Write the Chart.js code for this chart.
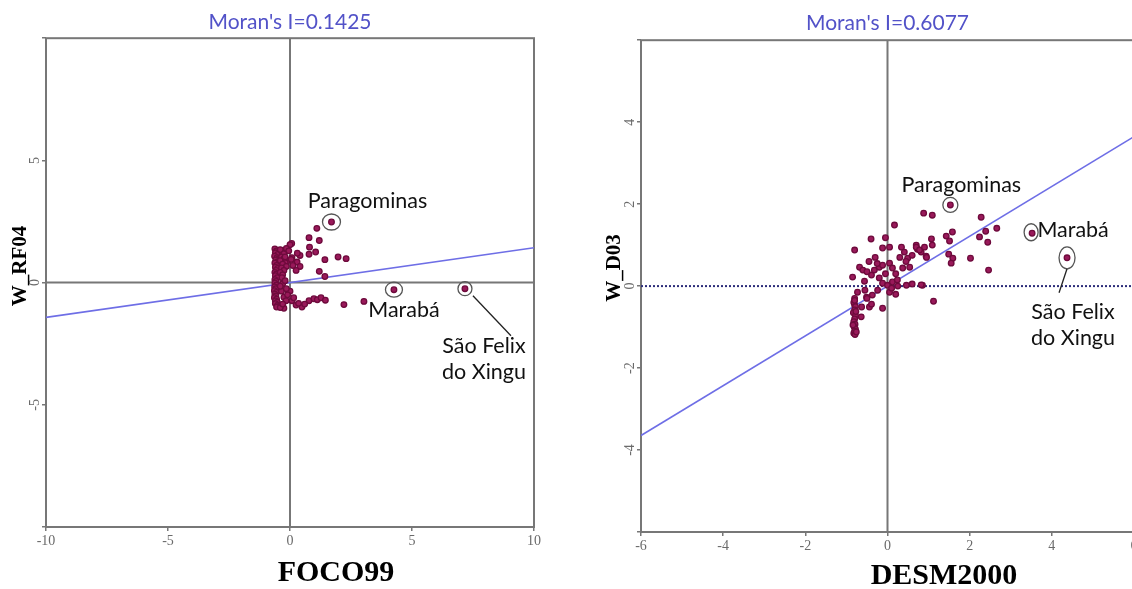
<!DOCTYPE html>
<html>
<head>
<meta charset="utf-8">
<script src="https://cdn.jsdelivr.net/npm/chart.js@4.4.1/dist/chart.umd.min.js"></script>
<style>
  html, body { margin: 0; padding: 0; background: #fff; overflow: hidden; width: 1132px; height: 589px; }
  .panel { position: absolute; top: 0; }
  #leftPanel { left: 0; }
  #rightPanel { left: 580px; }
</style>
</head>
<body>
<div class="panel" id="leftPanel"><canvas id="chartFoco" width="566" height="589"></canvas></div>
<div class="panel" id="rightPanel"><canvas id="chartDesm" width="600" height="589"></canvas></div>
<script>
// Moran scatterplots (standardized variable vs spatial lag)
const moranFoco = 0.1425;
const moranDesm = 0.6077;

// FOCO99 (x) vs W_RF04 (y)
const focoPoints = [
  [1.7, 2.48], [4.26, -0.29], [7.17, -0.25],
  [1.1, 2.22], [0.78, 1.84], [1.2, 1.72], [0.8, 1.45], [1.05, 1.25], [0.78, 1.16],
  [1.43, 0.94], [1.97, 1.05], [2.3, 0.98], [1.2, 0.46], [1.43, 0.25], [0.41, 1.11],
  [0.29, 0.84], [0.41, 0.66], [0.25, 0.5], [0.07, 1.6], [0, 1.55], [0.08, 1.02],
  [-0.08, 0.9], [0.3, 1.2], [0.12, 0.7],
  [-0.62, 1.38], [-0.55, 1.3], [-0.6, 1.22], [-0.5, 1.15], [-0.63, 1.08], [-0.53, 1.02],
  [-0.45, 0.98], [-0.58, 0.93], [-0.5, 0.86], [-0.62, 0.8], [-0.45, 0.76], [-0.55, 0.7],
  [-0.6, 0.63], [-0.5, 0.58], [-0.57, 0.5], [-0.62, 0.42], [-0.55, 0.35], [-0.6, 0.28],
  [-0.52, 0.2], [-0.62, 0.12], [-0.57, 0.05], [-0.62, -0.02], [-0.55, -0.1], [-0.63, -0.18],
  [-0.58, -0.25], [-0.64, -0.33], [-0.56, -0.4], [-0.62, -0.47], [-0.58, -0.55], [-0.64, -0.62],
  [-0.55, -0.68], [-0.6, -0.75], [-0.52, -0.8], [-0.6, -0.86], [-0.5, -0.92], [-0.45, -0.98],
  [-0.55, -1.0],
  [-0.33, 1.25], [-0.25, 1.18], [-0.35, 1.05], [-0.25, 0.97], [-0.4, 0.9], [-0.2, 0.82],
  [-0.3, 0.75], [-0.15, 0.66], [-0.35, 0.6], [-0.25, 0.5], [-0.4, 0.42], [-0.3, 0.32],
  [-0.33, 0.2], [-0.15, 1.4], [-0.4, 1.35], [-0.2, 1.05], [0.05, 0.95], [-0.05, 1.3],
  [-0.35, -0.35], [-0.25, -0.6], [-0.16, -0.74], [-0.25, -1.05], [-0.4, -1.02], [-0.3, -0.88],
  [0.08, -0.74], [0.25, -0.92], [0.49, -1.0], [0.35, -0.85], [0.78, -0.74], [0.98, -0.66],
  [1.12, -0.7], [1.27, -0.62], [1.45, -0.72], [2.21, -0.9], [3.03, -0.77], [0.0, -0.35],
  [-0.1, -0.5], [0.15, -0.62], [0.6, -0.88],
  [-0.3, -0.05], [-0.2, 0.08], [-0.4, -0.15], [-0.15, -0.25]
];

// DESM2000 (x) vs W_D03 (y)
const desmPoints = [
  [1.53, 1.98], [3.52, 1.29], [4.37, 0.69],
  [0.88, 1.78], [1.09, 1.73], [2.28, 1.68], [2.66, 1.41], [2.39, 1.34], [2.24, 1.2],
  [2.44, 1.07], [1.58, 1.32], [1.43, 1.22], [1.51, 1.1], [1.07, 1.15], [1.09, 1.0],
  [0.7, 1.0], [0.73, 0.9], [0.82, 0.83], [0.94, 0.73], [1.49, 0.78], [1.59, 0.68],
  [1.55, 0.56], [2.02, 0.68], [2.46, 0.39], [0.85, 0.02], [1.12, -0.37], [0.17, 1.49],
  [-0.4, 1.15], [-0.05, 1.18], [-0.8, 0.88], [-0.12, 0.93], [0.05, 0.95], [0.34, 0.95],
  [0.41, 0.83], [0.7, 0.95], [0.78, 0.88], [0.49, 0.68], [0.95, 0.7], [-0.68, 0.46],
  [-0.6, 0.39], [-0.85, 0.22], [-0.56, 0.12], [-0.39, 0.27], [-0.32, 0.39], [-0.2, 0.46],
  [-0.12, 0.51], [0.05, 0.56], [0.12, 0.44], [0.37, 0.44], [0.54, 0.46], [-0.12, 0.07],
  [0, 0.02], [0.12, 0.1], [0.24, 0.15], [0.46, 0.02], [0.82, 0.03], [-0.24, -0.1],
  [0.05, -0.15], [-0.37, -0.22], [-0.51, -0.27], [-0.73, -0.15], [-0.8, -0.46], [-0.63, -0.51],
  [-0.44, -0.51], [-0.39, -0.44], [-0.12, -0.54], [-0.64, -0.75],
  [0.3, 0.7], [0.6, 0.75], [0.2, 0.3], [0.1, -0.05], [0.25, 0.0], [-0.3, 0.7],
  [-0.25, 0.55], [-0.45, 0.6], [-0.5, 0.35], [0.45, 0.6], [0.9, 0.95], [-0.05, 0.3],
  [0.2, -0.2], [-0.2, 0.2], [0.6, 0.05], [-0.5, -0.3], [-0.55, -0.1],
  [-0.8, -0.3], [-0.82, -0.4], [-0.78, -0.5], [-0.8, -0.58], [-0.83, -0.65], [-0.78, -0.72],
  [-0.8, -0.8], [-0.82, -0.87], [-0.79, -0.93], [-0.81, -1.0], [-0.78, -1.05], [-0.8, -1.1],
  [-0.82, -1.15], [-0.79, -1.18], [-0.8, -0.35], [-0.77, -0.62], [-0.84, -0.95], [-0.76, -1.12]
];

// highlighted municipalities: [name lines, x, y]
const focoNamed = [
  [['Paragominas'], 1.7, 2.48],
  [['Marabá'], 4.26, -0.29],
  [['São Felix', 'do Xingu'], 7.17, -0.25]
];
const desmNamed = [
  [['Paragominas'], 1.53, 1.98],
  [['Marabá'], 3.52, 1.29],
  [['São Felix', 'do Xingu'], 4.37, 0.69]
];

const focoRange = [-10, 10];
const desmRange = [-6, 6];

const pointColor = '#6e0a3c';
const pointFill = '#99195a';
const axisGray = '#777777';
const regColor = '#6e6ee6';

// pixel offsets for the callouts (circle, label, leader line)
const focoCallouts = [
  { rx: 9, ry: 8, dx: 36, dy: -21 },
  { rx: 8.5, ry: 7.5, dx: 10, dy: 20 },
  { rx: 7, ry: 7, dx: 19, dy: 57, leader: [8, 7, 46, 47] }
];
const desmCallouts = [
  { rx: 7.5, ry: 7.5, dx: 11, dy: -20 },
  { rx: 7, ry: 8.5, cx: -1, cy: -1, dx: 41, dy: -3 },
  { rx: 8, ry: 11, dx: 6, dy: 54, leader: [0, 11, -8, 35] }
];

const decor = {
  id: 'decor',
  beforeDatasetsDraw(chart) {
    const { ctx, chartArea: a } = chart;
    ctx.save();
    ctx.strokeStyle = axisGray;
    ctx.lineWidth = 2;
    ctx.strokeRect(a.left, a.top, a.right - a.left, a.bottom - a.top);
    ctx.restore();
  },
  afterDraw(chart, args, opts) {
    const { ctx } = chart;
    const xs = chart.scales.x, ys = chart.scales.y;
    ctx.save();
    opts.named.forEach((n, i) => {
      const c = opts.callouts[i];
      const px = xs.getPixelForValue(n[1]);
      const py = ys.getPixelForValue(n[2]);
      ctx.strokeStyle = '#555';
      ctx.lineWidth = 1.3;
      ctx.beginPath();
      ctx.ellipse(px + (c.cx || 0), py + (c.cy || 0), c.rx, c.ry, 0, 0, Math.PI * 2);
      ctx.stroke();
      if (c.leader) {
        ctx.strokeStyle = '#222';
        ctx.beginPath();
        ctx.moveTo(px + c.leader[0], py + c.leader[1]);
        ctx.lineTo(px + c.leader[2], py + c.leader[3]);
        ctx.stroke();
      }
      ctx.fillStyle = '#111';
      ctx.font = '21.5px Lato';
      ctx.textAlign = 'center';
      ctx.textBaseline = 'middle';
      n[0].forEach((t, k) => ctx.fillText(t, px + c.dx, py + c.dy + k * 26));
    });
    // axis titles
    ctx.fillStyle = '#000';
    ctx.textAlign = 'center';
    ctx.textBaseline = 'middle';
    ctx.font = 'bold 30px "Liberation Serif"';
    ctx.fillText(opts.xTitle, opts.xTitleAt[0], opts.xTitleAt[1]);
    ctx.translate(opts.yTitleAt[0], opts.yTitleAt[1]);
    ctx.rotate(-Math.PI / 2);
    ctx.font = 'bold 21px "Liberation Serif"';
    ctx.fillText(opts.yTitle, 0, 0);
    ctx.restore();
  }
};

function makeChart(canvasId, cfg) {
  const [lo, hi] = cfg.range;
  const datasets = [
    {
      data: cfg.points.map(p => ({ x: p[0], y: p[1] })),
      pointRadius: 2.8,
      pointBackgroundColor: pointFill,
      pointBorderColor: pointColor,
      pointBorderWidth: 1.3
    },
    {
      data: [{ x: lo, y: lo * cfg.moran }, { x: hi, y: hi * cfg.moran }],
      showLine: true, pointRadius: 0, borderColor: regColor, borderWidth: 1.6
    },
    {
      data: [{ x: 0, y: lo }, { x: 0, y: hi }],
      showLine: true, pointRadius: 0, borderColor: axisGray, borderWidth: 2
    },
    {
      data: [{ x: lo, y: 0 }, { x: hi, y: 0 }],
      showLine: true, pointRadius: 0,
      borderColor: cfg.zeroDotted ? '#2d2d7a' : axisGray,
      borderWidth: 2,
      borderDash: cfg.zeroDotted ? [2, 2] : []
    }
  ];
  const tickFont = { family: 'Liberation Serif', size: 14 };
  return new Chart(document.getElementById(canvasId), {
    type: 'scatter',
    data: { datasets },
    plugins: [decor],
    options: {
      responsive: false,
      animation: false,
      events: [],
      layout: { padding: { left: 0, right: cfg.padRight, top: 0, bottom: 0 } },
      plugins: {
        legend: { display: false },
        tooltip: { enabled: false },
        title: {
          display: true,
          text: cfg.title,
          color: '#5252c8',
          fullSize: false,
          font: { family: 'Lato', size: 21, weight: 'normal' },
          padding: cfg.titlePad
        },
        decor: {
          named: cfg.named,
          callouts: cfg.callouts,
          xTitle: cfg.xTitle, xTitleAt: cfg.xTitleAt,
          yTitle: cfg.yTitle, yTitleAt: cfg.yTitleAt
        }
      },
      scales: {
        x: {
          type: 'linear', min: lo, max: hi,
          ticks: { stepSize: cfg.step, color: '#6a6a6a', font: tickFont, padding: 2, maxRotation: 0, autoSkip: false },
          grid: { drawOnChartArea: false, drawTicks: true, tickLength: 4, color: axisGray, lineWidth: 1.5 },
          border: { display: false },
          afterFit: s => { s.height = cfg.xAxisH; }
        },
        y: {
          type: 'linear', min: lo, max: hi,
          ticks: {
            stepSize: cfg.step, color: '#6a6a6a', font: tickFont, padding: 1,
            minRotation: 90, maxRotation: 90, crossAlign: 'center', autoSkip: false,
            callback: v => (v === lo || v === hi) ? '' : v
          },
          grid: { drawOnChartArea: false, drawTicks: true, tickLength: 4, color: axisGray, lineWidth: 1.5 },
          border: { display: false },
          afterFit: s => { s.width = cfg.yAxisW; }
        }
      }
    }
  });
}

makeChart('chartFoco', {
  points: focoPoints, named: focoNamed, callouts: focoCallouts,
  range: focoRange, step: 5, moran: moranFoco, zeroDotted: false,
  title: "Moran's I=0.1425", titlePad: { top: 10, bottom: 3 },
  padRight: 32, xAxisH: 62, yAxisW: 46,
  xTitle: 'FOCO99', xTitleAt: [336, 573],
  yTitle: 'W_RF04', yTitleAt: [21, 266]
});

makeChart('chartDesm', {
  points: desmPoints, named: desmNamed, callouts: desmCallouts,
  range: desmRange, step: 2, moran: moranDesm, zeroDotted: true,
  title: "Moran's I=0.6077", titlePad: { top: 11, bottom: 4 },
  padRight: 46, xAxisH: 57, yAxisW: 61,
  xTitle: 'DESM2000', xTitleAt: [364, 576],
  yTitle: 'W_D03', yTitleAt: [35, 268]
});
</script>
</body>
</html>
